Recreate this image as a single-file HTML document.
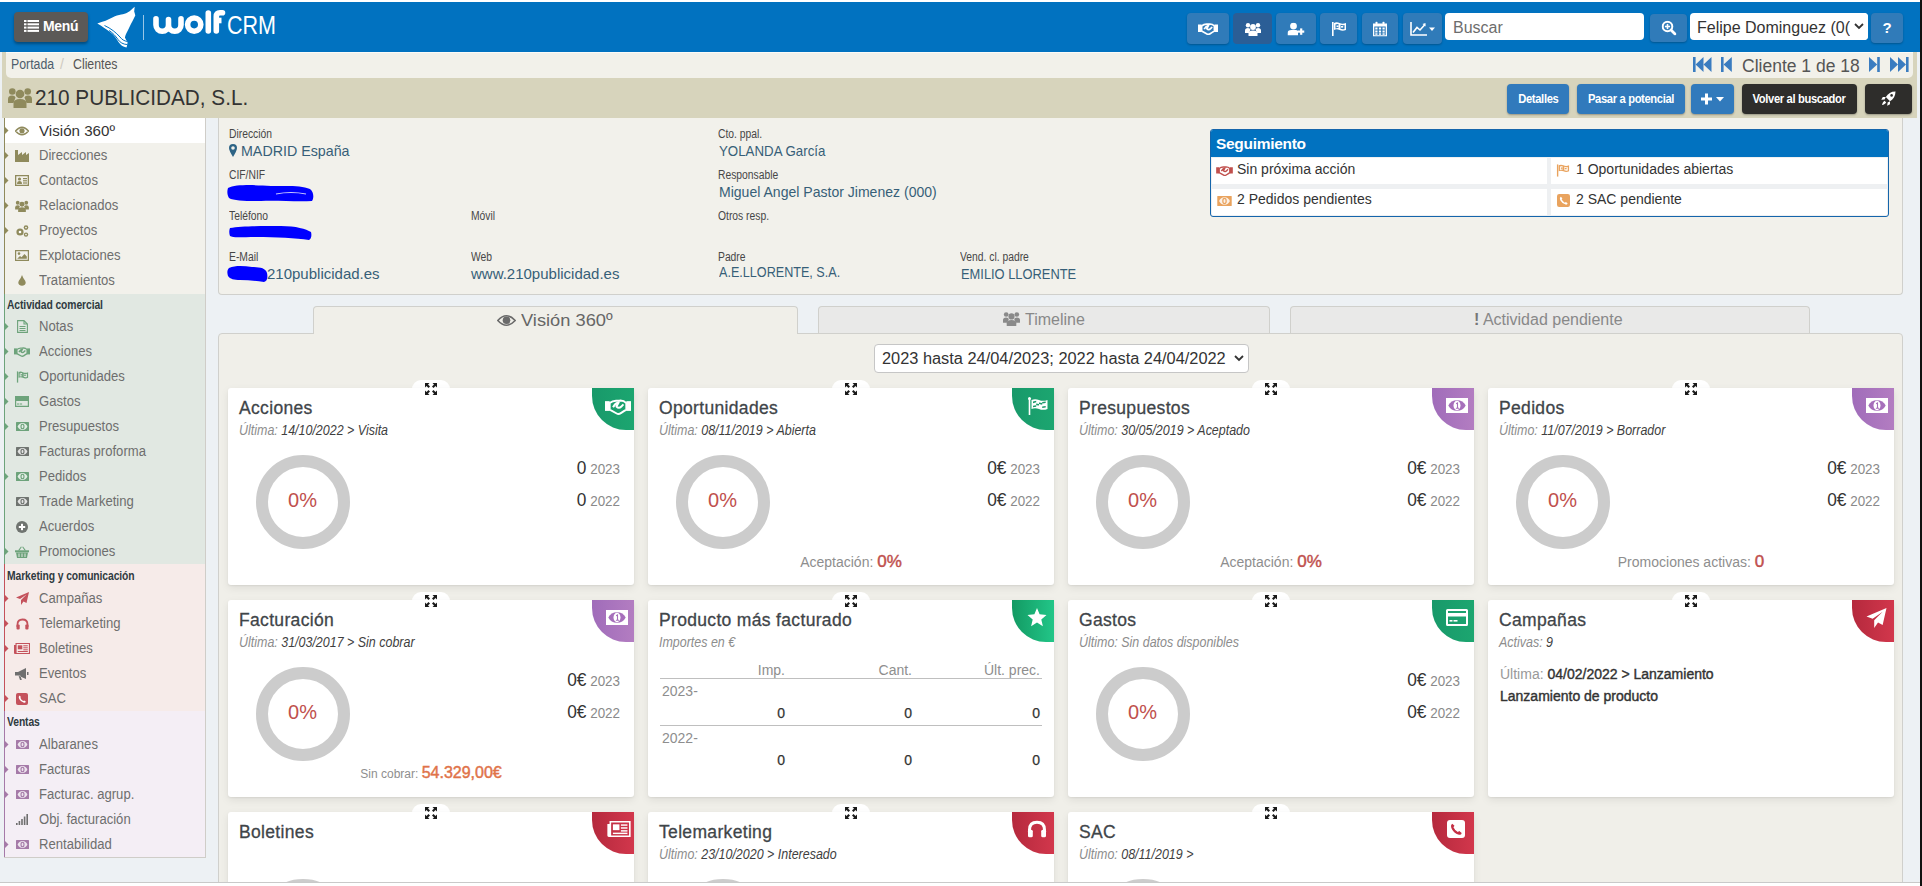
<!DOCTYPE html>
<html><head><meta charset="utf-8">
<style>
*{box-sizing:border-box;margin:0;padding:0}
html,body{width:1922px;height:886px;overflow:hidden;background:#fff;font-family:"Liberation Sans",sans-serif;color:#333}
.a{position:absolute}
.nw{white-space:nowrap}
#hdr{left:0;top:2px;width:1920px;height:50px;background:#0172c0}
#rstrip{left:1920px;top:0;width:2px;height:886px;background:#111}
#page{left:0;top:52px;width:1920px;height:831px;background:#edf1f4;border-bottom:1px solid #c9c9c9}
.hbtn{top:11px;height:31px;background:#307bb9;border-radius:4px;box-shadow:0 1px 2px rgba(0,0,0,.25)}
.hbtn svg{position:absolute;left:50%;top:50%;transform:translate(-50%,-50%)}
#menu{left:14px;top:10px;width:74px;height:30px;background:#5b5957;border-radius:4px;box-shadow:0 2px 3px rgba(0,0,0,.35);color:#fff;font-weight:bold;font-size:14px}
.tbtn{top:84px;height:30px;background:#317abc;border-radius:4px;color:#fff;font-size:13px;font-weight:bold;line-height:30px;text-align:center;white-space:nowrap;box-shadow:0 1px 2px rgba(0,0,0,.3);letter-spacing:-0.4px}
.sbh{left:7px;font-size:12px;font-weight:bold;color:#2f3a40;line-height:15px;transform:scaleX(0.86);transform-origin:left;letter-spacing:-0.1px}
.sbi{left:13px;width:18px;height:25px;display:flex;align-items:center;justify-content:center}
.sbt{left:39px;font-size:14px;line-height:17px;color:#6e6e6e;transform:scaleX(0.935);transform-origin:left}
.sbt0{font-size:15px;color:#333;transform:scaleX(1.01)}
.lbl{font-size:12px;line-height:14px;color:#474747;transform:scaleX(0.86);transform-origin:left}
.val{font-size:15px;line-height:17px;color:#375f78}
.card{width:406px;height:197px;background:#fff;border-radius:3px;box-shadow:0 3px 8px rgba(0,0,0,.08),0 1px 2px rgba(0,0,0,.06)}
.exptab{width:38px;height:20px;background:#fff;border-radius:9px 9px 0 0}
.bdg{width:42px;height:42px;border-radius:0 0 0 34px;overflow:hidden}
.ctitle{font-size:17.5px;line-height:20px;color:#3f4549;font-weight:normal;-webkit-text-stroke:0.3px #3f4549;letter-spacing:0.33px;margin-top:1px}
.csub{font-size:14px;line-height:16px;color:#3f3f3f;font-style:italic;transform:scaleX(0.89);transform-origin:left}
.donut{width:94px;height:94px;border-radius:50%;border:12px solid #cccccc}
.pct{width:101px;text-align:center;font-size:20px;line-height:24px;color:#c0504d;margin-top:-2px}
.rv{font-size:18px;line-height:22px;color:#333;transform:scaleX(0.96);transform-origin:right}
.yr{font-size:14px;color:#8a8a8a}
.bot{text-align:center}
.botl{font-size:14px;color:#8e8e8e}
.botn{font-size:17px;color:#c0504d;font-weight:normal;-webkit-text-stroke:0.45px #c0504d}
.botv2 .botl{font-size:12px}
.botv2 .botn{color:#e0734a;font-size:16px;-webkit-text-stroke:0.45px #e0734a}
.th{font-size:14px;line-height:16px;color:#8e8e8e}
.tyr{font-size:14px;line-height:16px;color:#8e8e8e}
.tv{font-size:14px;line-height:16px;color:#333;font-weight:normal;-webkit-text-stroke:0.25px #333}
.cl1{font-size:14px;line-height:17px;color:#333;font-weight:normal;-webkit-text-stroke:0.4px #333}
.tt{display:inline-block;transform:scaleX(0.86)}
.segt{font-size:14px;line-height:17px;color:#333}
</style></head><body>
<div class="a" id="page"></div>
<div class="a" id="hdr">
  <div class="a" id="menu">
    <svg class="a" style="left:10px;top:8px" width="15" height="12" viewBox="0 0 15 12"><g fill="#fff"><rect x="0" y="0" width="2.5" height="2"/><rect x="3.5" y="0" width="11.5" height="2"/><rect x="0" y="3.3" width="2.5" height="2"/><rect x="3.5" y="3.3" width="11.5" height="2"/><rect x="0" y="6.6" width="2.5" height="2"/><rect x="3.5" y="6.6" width="11.5" height="2"/><rect x="0" y="9.9" width="2.5" height="2"/><rect x="3.5" y="9.9" width="11.5" height="2"/></g></svg>
    <span class="a nw" style="left:29px;top:6px;font-size:14px;letter-spacing:-0.3px">Menú</span>
  </div>

  <svg class="a" style="left:96px;top:4px" width="42" height="44" viewBox="0 0 42 44">
    <path fill="#fff" d="M1.3 17.4 C4 16.5 7 15.6 9.6 14.8 C12 13.8 14.5 12.3 16.9 11.2 C19.5 10 22.5 9.3 25.2 8.6 C27.5 8 29.8 7.5 31.5 6.5 C33 5.6 34.3 4.5 35.6 3.4 C36.7 2.5 37.7 1.6 38.7 0.8 C38.6 2.3 38.3 3.9 38.2 5.4 C38.6 6.8 39.1 8.2 39.3 9.6 C38.5 11.3 37.6 13 36.7 14.8 C35.6 16.9 34.5 18.9 33.5 21 C32.5 23.1 31.4 25.2 30.4 27.3 C29.8 28.7 29.2 30.1 28.9 31.5 C29.5 33 30.5 34.5 31.5 36 C31.5 38 31 40 30.5 41.5 C27 41 24.5 39 22.5 36 C20.5 32.5 18 29 14 26 C10 23 6 20 1.3 17.4 Z"/>
    <path fill="none" stroke="#0172c0" stroke-width="1" d="M8.5 19.5 C15 22.5 20 26.5 24 31 C26 33.5 28 35 31.5 35.5"/>
    <path fill="none" stroke="#0172c0" stroke-width="1" d="M13 24.5 C17 27 19.5 30 22 33.5 C24 36.5 27 38.3 31.5 38.6"/>
  </svg>
  <div class="a" style="left:143px;top:13px;width:1px;height:25px;background:rgba(255,255,255,.6)"></div>
  <svg class="a" style="left:0;top:-2px" width="230" height="50" viewBox="0 0 230 50"><g fill="none" stroke="#fff" stroke-width="5.6" stroke-linecap="round" stroke-linejoin="round">
<path d="M156 18.8 L156 25 A6.25 6.25 0 0 0 168.5 25 L168.5 19.5 M168.5 25 A6.25 6.25 0 0 0 181 25 L181 18.8"/>
<circle cx="194.2" cy="24.6" r="6.6"/>
<path d="M208.3 13 L208.3 31"/>
<path d="M216.3 31 L216.3 16.5 Q216.3 12.8 220 12.8 L222.5 12.8"/>
<path d="M214 20.5 L221.5 20.5" stroke-linecap="butt"/>
</g></svg>
  <span class="a nw" style="left:227px;top:3px;font-size:25px;color:#fff;line-height:40px;transform:scaleX(0.86);transform-origin:left">CRM</span>

  <div class="a hbtn" style="left:1187px;width:42px">
    <svg width="20" height="12" viewBox="0 0 20 12"><g fill="#fff"><rect x="0" y="1.5" width="3.6" height="7.5"/><rect x="16.4" y="1.5" width="3.6" height="7.5"/></g><g fill="none" stroke="#fff" stroke-width="1.7" stroke-linejoin="round"><path d="M3.6 3 Q6 1 9 1.2 Q10.5 1.3 12 1 Q14.5 1 16.4 3 L16.4 8 Q14 9.5 12.5 10.5 Q10.5 11.8 9 11 L3.6 8 Z"/><path d="M6.2 6.2 Q7.8 3 10.6 2.4 L8.8 5.6 Q10.6 7.6 12.6 5.6 L14.2 4"/></g></svg>
  </div>
  <div class="a hbtn" style="left:1233px;width:39px;background:#2b5e96;box-shadow:none">
    <svg width="16" height="14" viewBox="0 0 16 14"><g fill="#fff"><circle cx="3" cy="3.2" r="2.2"/><circle cx="13" cy="3.2" r="2.2"/><circle cx="8" cy="5" r="2.9"/><path d="M0 11 L0 8.5 Q0 6 3 6 Q5 6 5.5 7.5 L4 11 Z"/><path d="M16 11 L16 8.5 Q16 6 13 6 Q11 6 10.5 7.5 L12 11 Z"/><path d="M3.5 14 L3.5 11.5 Q3.5 8.5 8 8.5 Q12.5 8.5 12.5 11.5 L12.5 14 Z"/></g></svg>
  </div>
  <div class="a hbtn" style="left:1276px;width:40px">
    <svg width="17" height="13" viewBox="0 0 17 13"><g fill="#fff"><circle cx="6" cy="3.6" r="3.4"/><path d="M0 13 L0 10.5 Q0 7.5 4 7.5 L8 7.5 Q10 7.5 10.5 8.5 L10.5 13 Z"/><rect x="10.5" y="8" width="6.5" height="2.2"/><rect x="12.6" y="5.9" width="2.2" height="6.4"/></g></svg>
  </div>
  <div class="a hbtn" style="left:1320px;width:37px">
    <svg width="15" height="15" viewBox="0 0 15 15"><g fill="#fff"><rect x="0.5" y="0.5" width="1.6" height="14"/><path d="M2.5 1.5 Q5 0 8 1.5 Q11 3 14.5 1.5 L14.5 8.5 Q11 10 8 8.5 Q5 7 2.5 8.5 Z M4 3 L4 7 Q5.5 6.2 7 6.5 L7 2.6 Q5.5 2.3 4 3 Z M9 3.3 L9 7.2 Q11 8 13 7.4 L13 3.5 Q11 4 9 3.3 Z" fill-rule="evenodd"/><rect x="5" y="4" width="2" height="1.6"/><rect x="9.5" y="4.5" width="2.2" height="1.6"/></g></svg>
  </div>
  <div class="a hbtn" style="left:1362px;width:36px">
    <svg width="14" height="15" viewBox="0 0 14 15"><g fill="#fff"><rect x="2.5" y="0" width="2" height="3" rx="1"/><rect x="9.5" y="0" width="2" height="3" rx="1"/><path fill-rule="evenodd" d="M0 2 L14 2 L14 15 L0 15 Z M1.3 5 L1.3 13.7 L12.7 13.7 L12.7 5 Z"/><rect x="2.3" y="6" width="2.2" height="2"/><rect x="5.9" y="6" width="2.2" height="2"/><rect x="9.5" y="6" width="2.2" height="2"/><rect x="2.3" y="9" width="2.2" height="2"/><rect x="5.9" y="9" width="2.2" height="2"/><rect x="9.5" y="9" width="2.2" height="2"/><rect x="2.3" y="11.8" width="2.2" height="1.5"/><rect x="5.9" y="11.8" width="2.2" height="1.5"/><rect x="9.5" y="11.8" width="2.2" height="1.5"/></g></svg>
  </div>
  <div class="a hbtn" style="left:1403px;width:39px">
    <svg width="26" height="14" viewBox="0 0 26 14"><g fill="none" stroke="#fff" stroke-width="1.6"><path d="M1 0 L1 13 L17 13"/><path d="M3 10.5 L7 5.5 L10 8 L15 2.5"/></g><path d="M15.5 1 L15.5 4.5 L12.5 2 Z" fill="#fff"/><path d="M19 5.5 L25 5.5 L22 9 Z" fill="#fff"/></svg>
  </div>
  <div class="a" style="left:1445px;top:11px;width:199px;height:27px;background:#fff;border-radius:4px"></div>
  <span class="a nw" style="left:1453px;top:16px;font-size:16px;color:#6d6d6d;line-height:20px">Buscar</span>
  <div class="a hbtn" style="left:1650px;top:12px;height:28px;width:37px">
    <svg width="15" height="15" viewBox="0 0 15 15"><g fill="none" stroke="#fff" stroke-width="2"><circle cx="6" cy="6" r="4.8"/><path d="M9.5 9.5 L13.5 13.5" stroke-width="2.8" stroke-linecap="round"/></g><g fill="#fff"><rect x="3.4" y="5.2" width="5.2" height="1.6"/><rect x="5.2" y="3.4" width="1.6" height="5.2"/></g></svg>
  </div>
  <div class="a" style="left:1690px;top:11px;width:178px;height:27px;background:#fff;border-radius:4px;overflow:hidden">
    <span class="a nw" style="left:7px;top:5px;font-size:16px;color:#333;line-height:20px">Felipe Dominguez (0(</span>
    <div class="a" style="left:160px;top:0;width:18px;height:27px;background:#fff"></div>
    <svg class="a" style="left:164px;top:10px" width="10" height="7" viewBox="0 0 10 7"><path d="M1 1 L5 5 L9 1" fill="none" stroke="#333" stroke-width="1.8"/></svg>
  </div>
  <div class="a hbtn" style="left:1871px;width:32px;height:30px">
    <span class="a" style="left:0;top:6px;width:32px;text-align:center;font-size:15px;font-weight:bold;color:#fff;line-height:18px">?</span>
  </div>
</div>

<div class="a" style="left:2px;top:52px;width:1915px;height:66px;background:#d7d4bc"></div>
<div class="a" style="left:6px;top:52px;width:1907px;height:26px;background:#f2f1ea;border-radius:0 0 5px 5px;border-top:1px solid #fbfbf8"></div>
<span class="a nw" style="left:11px;top:56px;font-size:14px;line-height:16px;color:#4d5d6c;transform:scaleX(0.88);transform-origin:left">Portada</span>
<span class="a nw" style="left:60px;top:56px;font-size:14px;line-height:16px;color:#cfcac0">/</span>
<span class="a nw" style="left:73px;top:56px;font-size:14px;line-height:16px;color:#555;transform:scaleX(0.88);transform-origin:left">Clientes</span>
<svg class="a" style="left:1693px;top:57px" width="19" height="15" viewBox="0 0 19 15"><g fill="#3a7cc0"><rect x="0" y="0" width="2.6" height="15"/><path d="M2.6 7.5 L10.5 0 L10.5 15 Z"/><path d="M10.5 7.5 L18.5 0 L18.5 15 Z"/></g></svg>
<svg class="a" style="left:1721px;top:57px" width="11" height="15" viewBox="0 0 11 15"><g fill="#3a7cc0"><rect x="0" y="0" width="2.6" height="15"/><path d="M2.6 7.5 L10.8 0 L10.8 15 Z"/></g></svg>
<span class="a nw" style="left:1742px;top:55.5px;font-size:17.5px;line-height:20px;color:#555">Cliente 1 de 18</span>
<svg class="a" style="left:1869px;top:57px" width="11" height="15" viewBox="0 0 11 15"><g fill="#3a7cc0"><rect x="8.2" y="0" width="2.6" height="15"/><path d="M8.2 7.5 L0 0 L0 15 Z"/></g></svg>
<svg class="a" style="left:1890px;top:57px" width="19" height="15" viewBox="0 0 19 15"><g fill="#3a7cc0"><rect x="16" y="0" width="2.6" height="15"/><path d="M16 7.5 L8 0 L8 15 Z"/><path d="M8 7.5 L0 0 L0 15 Z"/></g></svg>
<svg class="a" style="left:8px;top:87px" width="24" height="21" viewBox="0 0 24 21"><g fill="#8f8a5c"><circle cx="4.3" cy="4.5" r="3.3"/><circle cx="19.7" cy="4.5" r="3.3"/><circle cx="12" cy="7" r="4.3"/><path d="M0 16 L0 12 Q0 8.5 4 8.5 Q7 8.5 7.5 10.5 L5.5 16 Z"/><path d="M24 16 L24 12 Q24 8.5 20 8.5 Q17 8.5 16.5 10.5 L18.5 16 Z"/><path d="M5.5 21 L5.5 16.5 Q5.5 12 12 12 Q18.5 12 18.5 16.5 L18.5 21 Z"/></g></svg>
<span class="a nw" style="left:34.5px;top:86px;font-size:22.3px;line-height:24px;color:#333;transform:scaleX(0.93);transform-origin:left">210 PUBLICIDAD, S.L.</span>
<div class="a tbtn" style="left:1507px;width:62px"><span class="tt">Detalles</span></div>
<div class="a tbtn" style="left:1577px;width:108px"><span class="tt">Pasar a potencial</span></div>
<div class="a tbtn" style="left:1691px;width:43px"><svg class="a" style="left:10px;top:9px" width="24" height="12" viewBox="0 0 24 12"><g fill="#fff"><rect x="0" y="4.5" width="11" height="3"/><rect x="4" y="0.5" width="3" height="11"/><path d="M15 4 L23 4 L19 8.5 Z"/></g></svg></div>
<div class="a tbtn" style="left:1742px;width:115px;background:#2e2d2b"><span class="tt">Volver al buscador</span></div>
<div class="a tbtn" style="left:1865px;width:47px;background:#2e2d2b"><svg class="a" style="left:16px;top:7px" width="15" height="15" viewBox="0 0 15 15"><path d="M14.5 0.5 C10 0.5 7 2.5 4.8 6 L9 10.2 C12.5 8 14.5 5 14.5 0.5 Z" fill="#fff"/><circle cx="10.6" cy="4.4" r="1.3" fill="#2e2d2b"/><path d="M4.8 6 L1.8 6 L0.3 8.8 L3.6 8.4 Z" fill="#fff"/><path d="M9 10.2 L9 13.2 L6.2 14.7 L6.6 11.4 Z" fill="#fff"/><path d="M3.6 9.8 C2.4 10.4 1.5 12 1 14 C3 13.5 4.6 12.6 5.2 11.4 Z" fill="#fff"/></svg></div>

<!--INFO-->
<div class="a" style="left:218px;top:118px;width:1685px;height:177px;background:#f2f1eb;border:1px solid #d0d0cc;border-top:none;border-radius:0 0 4px 4px"></div>
<span class="a nw lbl" style="left:229px;top:127px">Dirección</span>
<svg class="a" style="left:229px;top:144px" width="8" height="13" viewBox="0 0 8 13"><path fill-rule="evenodd" fill="#2d6485" d="M4 0 Q8 0 8 4 Q8 6.5 4 13 Q0 6.5 0 4 Q0 0 4 0 Z M4 2.2 Q2.2 2.2 2.2 4 Q2.2 5.8 4 5.8 Q5.8 5.8 5.8 4 Q5.8 2.2 4 2.2 Z"/></svg>
<span class="a nw val" style="transform:scaleX(0.95);transform-origin:left;left:241px;top:142px">MADRID España</span>
<span class="a nw lbl" style="left:229px;top:168px">CIF/NIF</span>
<span class="a nw lbl" style="left:229px;top:209px">Teléfono</span>
<span class="a nw lbl" style="left:229px;top:250px">E-Mail</span>
<span class="a nw val" style="left:267px;top:265px">210publicidad.es</span>
<span class="a nw lbl" style="left:471px;top:209px">Móvil</span>
<span class="a nw lbl" style="left:471px;top:250px">Web</span>
<span class="a nw val" style="left:471px;top:265px">www.210publicidad.es</span>
<span class="a nw lbl" style="left:718px;top:127px">Cto. ppal.</span>
<span class="a nw val" style="transform:scaleX(0.886);transform-origin:left;left:719px;top:142px">YOLANDA García</span>
<span class="a nw lbl" style="left:718px;top:168px">Responsable</span>
<span class="a nw val" style="transform:scaleX(0.936);transform-origin:left;left:719px;top:183px">Miguel Angel Pastor Jimenez (000)</span>
<span class="a nw lbl" style="left:718px;top:209px">Otros resp.</span>
<span class="a nw lbl" style="left:718px;top:250px">Padre</span>
<span class="a nw val" style="transform:scaleX(0.84);transform-origin:left;left:719px;top:263px">A.E.LLORENTE, S.A.</span>
<span class="a nw lbl" style="left:960px;top:250px">Vend. cl. padre</span>
<span class="a nw val" style="transform:scaleX(0.858);transform-origin:left;left:961px;top:265px">EMILIO LLORENTE</span>
<svg class="a" style="left:226px;top:180px" width="90" height="65" viewBox="0 0 90 65">
 <g fill="#0000ff">
  <path d="M2 8 C10 4 30 5 45 6 C60 6 75 5 84 9 C88 12 88 18 86 21 C70 22 50 20 35 21 C20 21 8 21 3 18 C1 15 1 11 2 8 Z"/>
  <path d="M4 48 C15 46 35 46 55 46 C70 46 80 49 85 52 C86 56 85 59 83 60 C70 58 50 57 30 57 C15 57 7 58 4 56 C3 53 3 50 4 48 Z"/>
 </g>
 <path d="M50 14 C60 12 70 12 80 14" stroke="#fff" stroke-width="1.2" fill="none" opacity=".8"/>
</svg>
<svg class="a" style="left:226px;top:264px" width="44" height="20" viewBox="0 0 44 20"><path fill="#0000ff" d="M3 4 C10 1 18 2 26 3 C33 3 40 4 41 9 C42 14 41 17 38 18 C30 17 22 16 14 16 C8 16 4 15 2 12 C1 9 1 6 3 4 Z"/></svg>

<!--SEG-->
<div class="a" style="left:1210px;top:129px;width:679px;height:88px;background:#eef0f2;border:1px solid #1565ab;border-radius:3px;overflow:hidden">
  <div class="a" style="left:0;top:0;width:677px;height:27px;background:#0172c0"></div>
  <span class="a nw" style="left:5px;top:5px;font-size:15.5px;line-height:18px;font-weight:bold;color:#fff;letter-spacing:-0.3px">Seguimiento</span>
  <div class="a" style="left:1px;top:28px;width:335px;height:26px;background:#fff"></div>
  <div class="a" style="left:340px;top:28px;width:336px;height:26px;background:#fff"></div>
  <div class="a" style="left:1px;top:59px;width:335px;height:26px;background:#fff"></div>
  <div class="a" style="left:340px;top:59px;width:336px;height:26px;background:#fff"></div>
</div>
<svg class="a" style="left:1216px;top:166px" width="17" height="10" viewBox="0 0 20 12"><g fill="#c0504d"><rect x="0" y="1.5" width="3.6" height="7.5"/><rect x="16.4" y="1.5" width="3.6" height="7.5"/></g><g fill="none" stroke="#c0504d" stroke-width="1.7" stroke-linejoin="round"><path d="M3.6 3 Q6 1 9 1.2 Q10.5 1.3 12 1 Q14.5 1 16.4 3 L16.4 8 Q14 9.5 12.5 10.5 Q10.5 11.8 9 11 L3.6 8 Z"/><path d="M6.2 6.2 Q7.8 3 10.6 2.4 L8.8 5.6 Q10.6 7.6 12.6 5.6 L14.2 4"/></g></svg>
<span class="a nw segt" style="left:1237px;top:161px">Sin próxima acción</span>
<svg class="a" style="left:1217px;top:196px" width="15" height="10" viewBox="0 0 13 9"><rect width="13" height="9" rx="0.5" fill="#e9a35e"/><path d="M1.6 4.5 Q3 1.2 6.5 1.1 Q10 1.2 11.4 4.5 Q10 7.8 6.5 7.9 Q3 7.8 1.6 4.5 Z" fill="#fff" opacity=".85"/><ellipse cx="6.5" cy="4.5" rx="1.5" ry="2.3" fill="none" stroke="#e9a35e" stroke-width="1.1"/></svg>
<span class="a nw segt" style="left:1237px;top:191px">2 Pedidos pendientes</span>
<svg class="a" style="left:1556px;top:164px" width="14" height="13" viewBox="0 0 15 15"><g fill="#e9a35e"><rect x="0.5" y="0.5" width="1.6" height="14"/><path d="M2.5 1.5 Q5 0 8 1.5 Q11 3 14.5 1.5 L14.5 8.5 Q11 10 8 8.5 Q5 7 2.5 8.5 Z M4 3 L4 7 Q5.5 6.2 7 6.5 L7 2.6 Q5.5 2.3 4 3 Z M9 3.3 L9 7.2 Q11 8 13 7.4 L13 3.5 Q11 4 9 3.3 Z" fill-rule="evenodd"/><rect x="5" y="4" width="2" height="1.6"/><rect x="9.5" y="4.5" width="2.2" height="1.6"/></g></svg>
<span class="a nw segt" style="left:1576px;top:161px">1 Oportunidades abiertas</span>
<svg class="a" style="left:1557px;top:194px" width="13" height="13" viewBox="0 0 12 12"><rect width="12" height="12" rx="2" fill="#e9a35e"/><path d="M3.5 2.5 Q2 3.5 3.2 6 Q4.8 9 8 9.8 Q9.6 10 9.8 8.6 L8.2 7.4 L7.2 8 Q5.3 7 4.3 4.8 L5 3.9 Z" fill="#fff"/></svg>
<span class="a nw segt" style="left:1576px;top:191px">2 SAC pendiente</span>
<!--/SEG-->
<!--/INFO-->

<!--MAIN-->
<div class="a" style="left:218px;top:333px;width:1685px;height:560px;background:#f0efe9;border:1px solid #d0d0cc;border-radius:4px"></div>
<div class="a" style="left:313px;top:306px;width:485px;height:28px;background:#f0efe9;border:1px solid #d0d0cc;border-bottom:none;border-radius:4px 4px 0 0"></div>
<div class="a" style="left:818px;top:306px;width:452px;height:27px;background:#e9e9e8;border:1px solid #d0d0cc;border-bottom:none;border-radius:4px 4px 0 0"></div>
<div class="a" style="left:1290px;top:306px;width:520px;height:27px;background:#e9e9e8;border:1px solid #d0d0cc;border-bottom:none;border-radius:4px 4px 0 0"></div>
<svg class="a" style="left:497px;top:314px" width="19" height="13" viewBox="0 0 19 13"><path d="M0.8 6.5 Q9.5 -3 18.2 6.5 Q9.5 16 0.8 6.5 Z" fill="none" stroke="#6a6a6a" stroke-width="1.6"/><circle cx="9.5" cy="6.3" r="3.8" fill="#6a6a6a"/></svg>
<span class="a nw" style="left:521px;top:311px;font-size:17px;line-height:20px;color:#666;transform:scaleX(1.075);transform-origin:left">Visión 360º</span>
<svg class="a" style="left:1003px;top:311px" width="17" height="15" viewBox="0 0 16 14"><g fill="#8a8a8a"><circle cx="3" cy="3.2" r="2.2"/><circle cx="13" cy="3.2" r="2.2"/><circle cx="8" cy="5" r="2.9"/><path d="M0 11 L0 8.5 Q0 6 3 6 Q5 6 5.5 7.5 L4 11 Z"/><path d="M16 11 L16 8.5 Q16 6 13 6 Q11 6 10.5 7.5 L12 11 Z"/><path d="M3.5 14 L3.5 11.5 Q3.5 8.5 8 8.5 Q12.5 8.5 12.5 11.5 L12.5 14 Z"/></g></svg>
<span class="a nw" style="left:1025px;top:310px;font-size:16px;line-height:19px;color:#888">Timeline</span>
<span class="a nw" style="left:1474px;top:310px;font-size:16px;line-height:19px;color:#888"><b style="color:#777">!</b> Actividad pendiente</span>
<div class="a" style="left:874px;top:344px;width:375px;height:29px;background:#fff;border:1px solid #c6c6c6;border-radius:4px"></div>
<span class="a nw" style="left:882px;top:349px;font-size:16px;line-height:19px;color:#333;transform:scaleX(1.022);transform-origin:left">2023 hasta 24/04/2023; 2022 hasta 24/04/2022</span>
<svg class="a" style="left:1234px;top:355px" width="10" height="7" viewBox="0 0 10 7"><path d="M1 1 L5 5 L9 1" fill="none" stroke="#333" stroke-width="1.8"/></svg>
<!--CARDS-->
<div class="a exptab" style="left:412px;top:380px"></div>
<div class="a card" style="left:228px;top:388px"></div>
<div class="a" style="left:425px;top:381px;width:12px;height:12px"><svg width="12" height="12" viewBox="0 0 12 12"><g fill="#1a1a1a"><path d="M0 0 L4.5 0 L3 1.5 L5 3.5 L3.5 5 L1.5 3 L0 4.5 Z"/><path d="M12 0 L7.5 0 L9 1.5 L7 3.5 L8.5 5 L10.5 3 L12 4.5 Z"/><path d="M0 12 L4.5 12 L3 10.5 L5 8.5 L3.5 7 L1.5 9 L0 7.5 Z"/><path d="M12 12 L7.5 12 L9 10.5 L7 8.5 L8.5 7 L10.5 9 L12 7.5 Z"/></g></svg></div>
<div class="a bdg" style="left:592px;top:388px;background:linear-gradient(90deg,#18996a,#1ca670)"><div class="a" style="left:13px;top:11px;line-height:0"><svg width="26" height="16" viewBox="0 0 20 12"><g fill="#fff"><rect x="0" y="1.5" width="3.6" height="7.5"/><rect x="16.4" y="1.5" width="3.6" height="7.5"/></g><g fill="none" stroke="#fff" stroke-width="1.5" stroke-linejoin="round"><path d="M3.6 3 Q6 1 9 1.2 Q10.5 1.3 12 1 Q14.5 1 16.4 3 L16.4 8 Q14 9.5 12.5 10.5 Q10.5 11.8 9 11 L3.6 8 Z"/><path d="M6.2 6.2 Q7.8 3 10.6 2.4 L8.8 5.6 Q10.6 7.6 12.6 5.6 L14.2 4"/></g></svg></div></div>
<span class="a nw ctitle" style="left:239px;top:397px">Acciones</span>
<span class="a nw csub" style="left:239px;top:422px"><span style="color:#8d8d8d">Última:</span> 14/10/2022 &gt; Visita</span>
<div class="a donut" style="left:255.5px;top:455px"></div>
<span class="a nw pct" style="left:252px;top:490px">0%</span>
<div class="a nw rv" style="right:1302px;top:457px">0<span class="yr"> 2023</span></div>
<div class="a nw rv" style="right:1302px;top:489px">0<span class="yr"> 2022</span></div>
<div class="a exptab" style="left:832px;top:380px"></div>
<div class="a card" style="left:648px;top:388px"></div>
<div class="a" style="left:845px;top:381px;width:12px;height:12px"><svg width="12" height="12" viewBox="0 0 12 12"><g fill="#1a1a1a"><path d="M0 0 L4.5 0 L3 1.5 L5 3.5 L3.5 5 L1.5 3 L0 4.5 Z"/><path d="M12 0 L7.5 0 L9 1.5 L7 3.5 L8.5 5 L10.5 3 L12 4.5 Z"/><path d="M0 12 L4.5 12 L3 10.5 L5 8.5 L3.5 7 L1.5 9 L0 7.5 Z"/><path d="M12 12 L7.5 12 L9 10.5 L7 8.5 L8.5 7 L10.5 9 L12 7.5 Z"/></g></svg></div>
<div class="a bdg" style="left:1012px;top:388px;background:linear-gradient(90deg,#18996a,#1ca670)"><div class="a" style="left:16px;top:9px;line-height:0"><svg width="20" height="18" viewBox="0 0 20 18"><circle cx="1.5" cy="1.6" r="1.5" fill="#fff"/><rect x="0.7" y="1.5" width="1.6" height="16.5" fill="#fff"/><path d="M3.5 3 Q7 1.3 11 3 Q15 4.7 19.5 3 L19.5 12 Q15 13.7 11 12 Q7 10.3 3.5 12 Z" fill="#fff"/><g fill="#1b9a6b"><path d="M5 4.6 L8.2 3.7 L8.2 5.3 L5 6.2 Z"/><path d="M11 5.4 L14.2 6.1 L14.2 7.7 L11 7 Z"/><path d="M8.2 6.6 L11 7 L11 8.6 L8.2 8.2 Z"/><path d="M5 8.7 L8.2 8.2 L8.2 9.8 L5 10.3 Z"/><path d="M14.2 4.9 L17.7 4.4 L17.7 6 L14.2 6.5 Z"/><path d="M14.2 9.5 L17.7 9 L17.7 10.6 L14.2 11.1 Z"/></g></svg></div></div>
<span class="a nw ctitle" style="left:659px;top:397px">Oportunidades</span>
<span class="a nw csub" style="left:659px;top:422px"><span style="color:#8d8d8d">Última:</span> 08/11/2019 &gt; Abierta</span>
<div class="a donut" style="left:675.5px;top:455px"></div>
<span class="a nw pct" style="left:672px;top:490px">0%</span>
<div class="a nw rv" style="right:882px;top:457px">0€<span class="yr"> 2023</span></div>
<div class="a nw rv" style="right:882px;top:489px">0€<span class="yr"> 2022</span></div>
<div class="a nw bot botv" style="left:648px;top:552px;width:406px"><span class="botl">Aceptación: </span><span class="botn">0%</span></div>
<div class="a exptab" style="left:1252px;top:380px"></div>
<div class="a card" style="left:1068px;top:388px"></div>
<div class="a" style="left:1265px;top:381px;width:12px;height:12px"><svg width="12" height="12" viewBox="0 0 12 12"><g fill="#1a1a1a"><path d="M0 0 L4.5 0 L3 1.5 L5 3.5 L3.5 5 L1.5 3 L0 4.5 Z"/><path d="M12 0 L7.5 0 L9 1.5 L7 3.5 L8.5 5 L10.5 3 L12 4.5 Z"/><path d="M0 12 L4.5 12 L3 10.5 L5 8.5 L3.5 7 L1.5 9 L0 7.5 Z"/><path d="M12 12 L7.5 12 L9 10.5 L7 8.5 L8.5 7 L10.5 9 L12 7.5 Z"/></g></svg></div>
<div class="a bdg" style="left:1432px;top:388px;background:linear-gradient(90deg,#a06cba,#b37dc1)"><div class="a" style="left:14px;top:10px;line-height:0"><svg width="22" height="15" viewBox="0 0 22 15"><rect width="22" height="15" fill="#fff"/><path d="M2.3 7.5 Q5 2.3 11 2.2 Q17 2.3 19.7 7.5 Q17 12.7 11 12.8 Q5 12.7 2.3 7.5 Z" fill="#a66fbb"/><ellipse cx="11" cy="7.5" rx="3.5" ry="4.7" fill="#fff"/><path d="M10.1 5.7 L11.5 4.9 L11.5 10.3 M9.9 10.3 L13.1 10.3" stroke="#a66fbb" stroke-width="1.1" fill="none"/></svg></div></div>
<span class="a nw ctitle" style="left:1079px;top:397px">Presupuestos</span>
<span class="a nw csub" style="left:1079px;top:422px"><span style="color:#8d8d8d">Último:</span> 30/05/2019 &gt; Aceptado</span>
<div class="a donut" style="left:1095.5px;top:455px"></div>
<span class="a nw pct" style="left:1092px;top:490px">0%</span>
<div class="a nw rv" style="right:462px;top:457px">0€<span class="yr"> 2023</span></div>
<div class="a nw rv" style="right:462px;top:489px">0€<span class="yr"> 2022</span></div>
<div class="a nw bot botv" style="left:1068px;top:552px;width:406px"><span class="botl">Aceptación: </span><span class="botn">0%</span></div>
<div class="a exptab" style="left:1672px;top:380px"></div>
<div class="a card" style="left:1488px;top:388px"></div>
<div class="a" style="left:1685px;top:381px;width:12px;height:12px"><svg width="12" height="12" viewBox="0 0 12 12"><g fill="#1a1a1a"><path d="M0 0 L4.5 0 L3 1.5 L5 3.5 L3.5 5 L1.5 3 L0 4.5 Z"/><path d="M12 0 L7.5 0 L9 1.5 L7 3.5 L8.5 5 L10.5 3 L12 4.5 Z"/><path d="M0 12 L4.5 12 L3 10.5 L5 8.5 L3.5 7 L1.5 9 L0 7.5 Z"/><path d="M12 12 L7.5 12 L9 10.5 L7 8.5 L8.5 7 L10.5 9 L12 7.5 Z"/></g></svg></div>
<div class="a bdg" style="left:1852px;top:388px;background:linear-gradient(90deg,#a06cba,#b37dc1)"><div class="a" style="left:14px;top:10px;line-height:0"><svg width="22" height="15" viewBox="0 0 22 15"><rect width="22" height="15" fill="#fff"/><path d="M2.3 7.5 Q5 2.3 11 2.2 Q17 2.3 19.7 7.5 Q17 12.7 11 12.8 Q5 12.7 2.3 7.5 Z" fill="#a66fbb"/><ellipse cx="11" cy="7.5" rx="3.5" ry="4.7" fill="#fff"/><path d="M10.1 5.7 L11.5 4.9 L11.5 10.3 M9.9 10.3 L13.1 10.3" stroke="#a66fbb" stroke-width="1.1" fill="none"/></svg></div></div>
<span class="a nw ctitle" style="left:1499px;top:397px">Pedidos</span>
<span class="a nw csub" style="left:1499px;top:422px"><span style="color:#8d8d8d">Último:</span> 11/07/2019 &gt; Borrador</span>
<div class="a donut" style="left:1515.5px;top:455px"></div>
<span class="a nw pct" style="left:1512px;top:490px">0%</span>
<div class="a nw rv" style="right:42px;top:457px">0€<span class="yr"> 2023</span></div>
<div class="a nw rv" style="right:42px;top:489px">0€<span class="yr"> 2022</span></div>
<div class="a nw bot botv" style="left:1488px;top:552px;width:406px"><span class="botl">Promociones activas: </span><span class="botn">0</span></div>
<div class="a exptab" style="left:412px;top:592px"></div>
<div class="a card" style="left:228px;top:600px"></div>
<div class="a" style="left:425px;top:593px;width:12px;height:12px"><svg width="12" height="12" viewBox="0 0 12 12"><g fill="#1a1a1a"><path d="M0 0 L4.5 0 L3 1.5 L5 3.5 L3.5 5 L1.5 3 L0 4.5 Z"/><path d="M12 0 L7.5 0 L9 1.5 L7 3.5 L8.5 5 L10.5 3 L12 4.5 Z"/><path d="M0 12 L4.5 12 L3 10.5 L5 8.5 L3.5 7 L1.5 9 L0 7.5 Z"/><path d="M12 12 L7.5 12 L9 10.5 L7 8.5 L8.5 7 L10.5 9 L12 7.5 Z"/></g></svg></div>
<div class="a bdg" style="left:592px;top:600px;background:linear-gradient(90deg,#a06cba,#b37dc1)"><div class="a" style="left:14px;top:10px;line-height:0"><svg width="22" height="15" viewBox="0 0 22 15"><rect width="22" height="15" fill="#fff"/><path d="M2.3 7.5 Q5 2.3 11 2.2 Q17 2.3 19.7 7.5 Q17 12.7 11 12.8 Q5 12.7 2.3 7.5 Z" fill="#a66fbb"/><ellipse cx="11" cy="7.5" rx="3.5" ry="4.7" fill="#fff"/><path d="M10.1 5.7 L11.5 4.9 L11.5 10.3 M9.9 10.3 L13.1 10.3" stroke="#a66fbb" stroke-width="1.1" fill="none"/></svg></div></div>
<span class="a nw ctitle" style="left:239px;top:609px">Facturación</span>
<span class="a nw csub" style="left:239px;top:634px"><span style="color:#8d8d8d">Última:</span> 31/03/2017 &gt; Sin cobrar</span>
<div class="a donut" style="left:255.5px;top:667px"></div>
<span class="a nw pct" style="left:252px;top:702px">0%</span>
<div class="a nw rv" style="right:1302px;top:669px">0€<span class="yr"> 2023</span></div>
<div class="a nw rv" style="right:1302px;top:701px">0€<span class="yr"> 2022</span></div>
<div class="a nw bot botv2" style="left:228px;top:764px;width:406px"><span class="botl">Sin cobrar: </span><span class="botn">54.329,00€</span></div>
<div class="a exptab" style="left:832px;top:592px"></div>
<div class="a card" style="left:648px;top:600px"></div>
<div class="a" style="left:845px;top:593px;width:12px;height:12px"><svg width="12" height="12" viewBox="0 0 12 12"><g fill="#1a1a1a"><path d="M0 0 L4.5 0 L3 1.5 L5 3.5 L3.5 5 L1.5 3 L0 4.5 Z"/><path d="M12 0 L7.5 0 L9 1.5 L7 3.5 L8.5 5 L10.5 3 L12 4.5 Z"/><path d="M0 12 L4.5 12 L3 10.5 L5 8.5 L3.5 7 L1.5 9 L0 7.5 Z"/><path d="M12 12 L7.5 12 L9 10.5 L7 8.5 L8.5 7 L10.5 9 L12 7.5 Z"/></g></svg></div>
<div class="a bdg" style="left:1012px;top:600px;background:linear-gradient(90deg,#139a63,#22c688)"><div class="a" style="left:15px;top:8px;line-height:0"><svg width="20" height="19" viewBox="0 0 20 19"><path fill="#fff" d="M10 0 L12.6 6.2 L19.5 6.9 L14.3 11.4 L15.9 18.2 L10 14.6 L4.1 18.2 L5.7 11.4 L0.5 6.9 L7.4 6.2 Z"/></svg></div></div>
<span class="a nw ctitle" style="left:659px;top:609px">Producto más facturado</span>
<span class="a nw csub" style="left:659px;top:634px"><span style="color:#8d8d8d">Importes en €</span></span>
<span class="a nw th" style="right:1137px;top:662px">Imp.</span>
<span class="a nw th" style="right:1010px;top:662px">Cant.</span>
<span class="a nw th" style="right:882px;top:662px">Últ. prec.</span>
<div class="a" style="left:660px;top:678px;width:382px;height:1px;background:#bfbfbf"></div>
<span class="a nw tyr" style="left:662px;top:683px">2023-</span>
<span class="a nw tv" style="right:1137px;top:705px">0</span>
<span class="a nw tv" style="right:1010px;top:705px">0</span>
<span class="a nw tv" style="right:882px;top:705px">0</span>
<div class="a" style="left:660px;top:725px;width:382px;height:1px;background:#bfbfbf"></div>
<span class="a nw tyr" style="left:662px;top:730px">2022-</span>
<span class="a nw tv" style="right:1137px;top:752px">0</span>
<span class="a nw tv" style="right:1010px;top:752px">0</span>
<span class="a nw tv" style="right:882px;top:752px">0</span>
<div class="a exptab" style="left:1252px;top:592px"></div>
<div class="a card" style="left:1068px;top:600px"></div>
<div class="a" style="left:1265px;top:593px;width:12px;height:12px"><svg width="12" height="12" viewBox="0 0 12 12"><g fill="#1a1a1a"><path d="M0 0 L4.5 0 L3 1.5 L5 3.5 L3.5 5 L1.5 3 L0 4.5 Z"/><path d="M12 0 L7.5 0 L9 1.5 L7 3.5 L8.5 5 L10.5 3 L12 4.5 Z"/><path d="M0 12 L4.5 12 L3 10.5 L5 8.5 L3.5 7 L1.5 9 L0 7.5 Z"/><path d="M12 12 L7.5 12 L9 10.5 L7 8.5 L8.5 7 L10.5 9 L12 7.5 Z"/></g></svg></div>
<div class="a bdg" style="left:1432px;top:600px;background:linear-gradient(90deg,#18996a,#1ca670)"><div class="a" style="left:14px;top:9px;line-height:0"><svg width="22" height="17" viewBox="0 0 22 17"><path fill-rule="evenodd" fill="#fff" d="M1.5 0 L20.5 0 Q22 0 22 1.5 L22 15.5 Q22 17 20.5 17 L1.5 17 Q0 17 0 15.5 L0 1.5 Q0 0 1.5 0 Z M2 2 L2 4 L20 4 L20 2 Z M2 7.5 L2 15 L20 15 L20 7.5 Z"/><rect x="3.5" y="11" width="3" height="1.6" fill="#fff"/><rect x="7.5" y="11" width="4" height="1.6" fill="#fff"/></svg></div></div>
<span class="a nw ctitle" style="left:1079px;top:609px">Gastos</span>
<span class="a nw csub" style="left:1079px;top:634px"><span style="color:#8d8d8d">Último: Sin datos disponibles</span></span>
<div class="a donut" style="left:1095.5px;top:667px"></div>
<span class="a nw pct" style="left:1092px;top:702px">0%</span>
<div class="a nw rv" style="right:462px;top:669px">0€<span class="yr"> 2023</span></div>
<div class="a nw rv" style="right:462px;top:701px">0€<span class="yr"> 2022</span></div>
<div class="a exptab" style="left:1672px;top:592px"></div>
<div class="a card" style="left:1488px;top:600px"></div>
<div class="a" style="left:1685px;top:593px;width:12px;height:12px"><svg width="12" height="12" viewBox="0 0 12 12"><g fill="#1a1a1a"><path d="M0 0 L4.5 0 L3 1.5 L5 3.5 L3.5 5 L1.5 3 L0 4.5 Z"/><path d="M12 0 L7.5 0 L9 1.5 L7 3.5 L8.5 5 L10.5 3 L12 4.5 Z"/><path d="M0 12 L4.5 12 L3 10.5 L5 8.5 L3.5 7 L1.5 9 L0 7.5 Z"/><path d="M12 12 L7.5 12 L9 10.5 L7 8.5 L8.5 7 L10.5 9 L12 7.5 Z"/></g></svg></div>
<div class="a bdg" style="left:1852px;top:600px;background:linear-gradient(90deg,#b5293d,#d2374c)"><div class="a" style="left:14px;top:8px;line-height:0"><svg width="21" height="20" viewBox="0 0 13 13"><path d="M13 0 L0 5.5 L4 7 L10.5 2.5 L5 8 L5 13 L7.5 9.5 L10.5 11 Z" fill="#fff"/></svg></div></div>
<span class="a nw ctitle" style="left:1499px;top:609px">Campañas</span>
<span class="a nw csub" style="left:1499px;top:634px"><span style="color:#8d8d8d">Activas:</span> 9</span>
<span class="a nw cl1" style="left:1500px;top:666px"><span style="color:#999;font-weight:normal;-webkit-text-stroke:0">Última:</span> 04/02/2022 &gt; Lanzamiento</span>
<span class="a nw cl1" style="left:1500px;top:688px">Lanzamiento de producto</span>
<div class="a exptab" style="left:412px;top:804px"></div>
<div class="a card" style="left:228px;top:812px"></div>
<div class="a" style="left:425px;top:805px;width:12px;height:12px"><svg width="12" height="12" viewBox="0 0 12 12"><g fill="#1a1a1a"><path d="M0 0 L4.5 0 L3 1.5 L5 3.5 L3.5 5 L1.5 3 L0 4.5 Z"/><path d="M12 0 L7.5 0 L9 1.5 L7 3.5 L8.5 5 L10.5 3 L12 4.5 Z"/><path d="M0 12 L4.5 12 L3 10.5 L5 8.5 L3.5 7 L1.5 9 L0 7.5 Z"/><path d="M12 12 L7.5 12 L9 10.5 L7 8.5 L8.5 7 L10.5 9 L12 7.5 Z"/></g></svg></div>
<div class="a bdg" style="left:592px;top:812px;background:linear-gradient(90deg,#b5293d,#d2374c)"><div class="a" style="left:15px;top:9px;line-height:0"><svg width="24" height="16" viewBox="0 0 16 11"><path fill-rule="evenodd" fill="#fff" d="M1.5 0 L16 0 L16 11 L1 11 Q0 11 0 10 L0 2 L1.5 2 Z M2.6 1.1 L2.6 9.9 L14.9 9.9 L14.9 1.1 Z"/><rect x="3.8" y="2.3" width="4.5" height="4" fill="#fff"/><g fill="#fff"><rect x="9.3" y="2.3" width="4.5" height="1"/><rect x="9.3" y="4.3" width="4.5" height="1"/><rect x="9.3" y="6.3" width="4.5" height="1"/><rect x="3.8" y="8" width="10" height="1"/></g></svg></div></div>
<span class="a nw ctitle" style="left:239px;top:821px">Boletines</span>
<div class="a donut" style="left:255.5px;top:879px"></div>
<span class="a nw pct" style="left:252px;top:914px">0%</span>
<div class="a exptab" style="left:832px;top:804px"></div>
<div class="a card" style="left:648px;top:812px"></div>
<div class="a" style="left:845px;top:805px;width:12px;height:12px"><svg width="12" height="12" viewBox="0 0 12 12"><g fill="#1a1a1a"><path d="M0 0 L4.5 0 L3 1.5 L5 3.5 L3.5 5 L1.5 3 L0 4.5 Z"/><path d="M12 0 L7.5 0 L9 1.5 L7 3.5 L8.5 5 L10.5 3 L12 4.5 Z"/><path d="M0 12 L4.5 12 L3 10.5 L5 8.5 L3.5 7 L1.5 9 L0 7.5 Z"/><path d="M12 12 L7.5 12 L9 10.5 L7 8.5 L8.5 7 L10.5 9 L12 7.5 Z"/></g></svg></div>
<div class="a bdg" style="left:1012px;top:812px;background:linear-gradient(90deg,#b5293d,#d2374c)"><div class="a" style="left:15px;top:8px;line-height:0"><svg width="20" height="18" viewBox="0 0 13 12"><path d="M1.5 9 L1.5 6.5 Q1.5 1.5 6.5 1.5 Q11.5 1.5 11.5 6.5 L11.5 9" fill="none" stroke="#fff" stroke-width="2"/><rect x="0.5" y="6.5" width="3.2" height="5" rx="1" fill="#fff"/><rect x="9.3" y="6.5" width="3.2" height="5" rx="1" fill="#fff"/></svg></div></div>
<span class="a nw ctitle" style="left:659px;top:821px">Telemarketing</span>
<span class="a nw csub" style="left:659px;top:846px"><span style="color:#8d8d8d">Último:</span> 23/10/2020 &gt; Interesado</span>
<div class="a donut" style="left:675.5px;top:879px"></div>
<span class="a nw pct" style="left:672px;top:914px">0%</span>
<div class="a exptab" style="left:1252px;top:804px"></div>
<div class="a card" style="left:1068px;top:812px"></div>
<div class="a" style="left:1265px;top:805px;width:12px;height:12px"><svg width="12" height="12" viewBox="0 0 12 12"><g fill="#1a1a1a"><path d="M0 0 L4.5 0 L3 1.5 L5 3.5 L3.5 5 L1.5 3 L0 4.5 Z"/><path d="M12 0 L7.5 0 L9 1.5 L7 3.5 L8.5 5 L10.5 3 L12 4.5 Z"/><path d="M0 12 L4.5 12 L3 10.5 L5 8.5 L3.5 7 L1.5 9 L0 7.5 Z"/><path d="M12 12 L7.5 12 L9 10.5 L7 8.5 L8.5 7 L10.5 9 L12 7.5 Z"/></g></svg></div>
<div class="a bdg" style="left:1432px;top:812px;background:linear-gradient(90deg,#b5293d,#d2374c)"><div class="a" style="left:15px;top:8px;line-height:0"><svg width="18" height="18" viewBox="0 0 12 12"><rect width="12" height="12" rx="2" fill="#fff"/><path d="M3.5 2.5 Q2 3.5 3.2 6 Q4.8 9 8 9.8 Q9.6 10 9.8 8.6 L8.2 7.4 L7.2 8 Q5.3 7 4.3 4.8 L5 3.9 Z" fill="#c42f44"/></svg></div></div>
<span class="a nw ctitle" style="left:1079px;top:821px">SAC</span>
<span class="a nw csub" style="left:1079px;top:846px"><span style="color:#8d8d8d">Último:</span> 08/11/2019 &gt;</span>
<div class="a donut" style="left:1095.5px;top:879px"></div>
<span class="a nw pct" style="left:1092px;top:914px">0%</span>
<!--/CARDS-->
<!--/MAIN-->
<!--SIDEBAR-->
<div class="a" style="left:4px;top:118px;width:202px;height:740px;border:1px solid #cfcdc8;border-top:none;border-left:none"></div>
<div class="a" style="left:4px;top:118px;width:201px;height:176px;background:#f2f1eb;border-left:1px solid #8f8a5c"></div>
<div class="a" style="left:5px;top:118px;width:200px;height:25px;background:#fff"></div>
<svg class="a" style="left:5px;top:127px" width="4" height="7" viewBox="0 0 4 7"><path d="M0 0 L3.5 3.5 L0 7 Z" fill="#8f8a5c"/></svg>
<div class="a sbi" style="top:118px"><svg width="14" height="10" viewBox="0 0 14 10"><path d="M0.5 5 Q7 -2.5 13.5 5 Q7 12.5 0.5 5 Z" fill="none" stroke="#8f8a5c" stroke-width="1.3"/><circle cx="7" cy="4.8" r="2.6" fill="#8f8a5c"/></svg></div>
<span class="a nw sbt sbt0" style="top:122px">Visión 360º</span>
<svg class="a" style="left:5px;top:152px" width="4" height="7" viewBox="0 0 4 7"><path d="M0 0 L3.5 3.5 L0 7 Z" fill="#8f8a5c"/></svg>
<div class="a sbi" style="top:143px"><svg width="14" height="12" viewBox="0 0 14 12"><path d="M0 0 L3 0 L3 5 L7 2 L7 5 L11 2 L11 5 L14 3 L14 12 L0 12 Z" fill="#8f8a5c"/></svg></div>
<span class="a nw sbt" style="top:147px">Direcciones</span>
<svg class="a" style="left:5px;top:177px" width="4" height="7" viewBox="0 0 4 7"><path d="M0 0 L3.5 3.5 L0 7 Z" fill="#8f8a5c"/></svg>
<div class="a sbi" style="top:168px"><svg width="14" height="11" viewBox="0 0 14 11"><path fill-rule="evenodd" fill="#8f8a5c" d="M0 0 L14 0 L14 11 L0 11 Z M1.3 1.3 L1.3 9.7 L12.7 9.7 L12.7 1.3 Z"/><circle cx="4.5" cy="4" r="1.6" fill="#8f8a5c"/><path d="M2 9 Q2 6 4.5 6 Q7 6 7 9 Z" fill="#8f8a5c"/><rect x="8" y="3" width="4" height="1.2" fill="#8f8a5c"/><rect x="8" y="5.2" width="4" height="1.2" fill="#8f8a5c"/><rect x="8" y="7.4" width="4" height="1.2" fill="#8f8a5c"/></svg></div>
<span class="a nw sbt" style="top:172px">Contactos</span>
<svg class="a" style="left:5px;top:202px" width="4" height="7" viewBox="0 0 4 7"><path d="M0 0 L3.5 3.5 L0 7 Z" fill="#8f8a5c"/></svg>
<div class="a sbi" style="top:193px"><svg width="14" height="12" viewBox="0 0 16 14"><g fill="#8f8a5c"><circle cx="3" cy="3.2" r="2.2"/><circle cx="13" cy="3.2" r="2.2"/><circle cx="8" cy="5" r="2.9"/><path d="M0 11 L0 8.5 Q0 6 3 6 Q5 6 5.5 7.5 L4 11 Z"/><path d="M16 11 L16 8.5 Q16 6 13 6 Q11 6 10.5 7.5 L12 11 Z"/><path d="M3.5 14 L3.5 11.5 Q3.5 8.5 8 8.5 Q12.5 8.5 12.5 11.5 L12.5 14 Z"/></g></svg></div>
<span class="a nw sbt" style="top:197px">Relacionados</span>
<svg class="a" style="left:5px;top:227px" width="4" height="7" viewBox="0 0 4 7"><path d="M0 0 L3.5 3.5 L0 7 Z" fill="#8f8a5c"/></svg>
<div class="a sbi" style="top:218px"><svg width="14" height="12" viewBox="0 0 14 12"><g fill="#8f8a5c"><circle cx="5" cy="7" r="3.6"/><circle cx="11" cy="2.6" r="2.3"/><circle cx="11" cy="9.6" r="2.2"/></g><g fill="#fff"><circle cx="5" cy="7" r="1.3"/><circle cx="11" cy="2.6" r="0.8"/><circle cx="11" cy="9.6" r="0.8"/></g></svg></div>
<span class="a nw sbt" style="top:222px">Proyectos</span>
<div class="a sbi" style="top:243px"><svg width="14" height="11" viewBox="0 0 14 11"><path fill-rule="evenodd" fill="#8f8a5c" d="M0 0 L14 0 L14 11 L0 11 Z M1.2 1.2 L1.2 9.8 L12.8 9.8 L12.8 1.2 Z"/><circle cx="4" cy="3.6" r="1.3" fill="#8f8a5c"/><path d="M2.2 8.8 L5 6 L6.5 7.3 L9.5 4 L11.8 6.5 L11.8 8.8 Z" fill="#8f8a5c"/></svg></div>
<span class="a nw sbt" style="top:247px">Explotaciones</span>
<div class="a sbi" style="top:268px"><svg width="8" height="11" viewBox="0 0 8 11"><path d="M4 0 Q5 3 7 5.5 Q8.5 8 6.8 9.8 Q4 11.8 1.2 9.8 Q-0.5 8 1 5.5 Q3 3 4 0 Z" fill="#8f8a5c"/></svg></div>
<span class="a nw sbt" style="top:272px">Tratamientos</span>
<div class="a" style="left:4px;top:294px;width:201px;height:270px;background:#e1e8e2;border-left:1px solid #6da37b"></div>
<span class="a nw sbh" style="top:297.5px">Actividad comercial</span>
<svg class="a" style="left:5px;top:323px" width="4" height="7" viewBox="0 0 4 7"><path d="M0 0 L3.5 3.5 L0 7 Z" fill="#6da37b"/></svg>
<div class="a sbi" style="top:314px"><svg width="11" height="13" viewBox="0 0 11 13"><path d="M0.6 0.6 L7 0.6 L10.4 4 L10.4 12.4 L0.6 12.4 Z M7 0.6 L7 4 L10.4 4" fill="none" stroke="#6da37b" stroke-width="1.1"/><g fill="#6da37b"><rect x="2.5" y="6" width="6" height="1"/><rect x="2.5" y="8" width="6" height="1"/><rect x="2.5" y="10" width="6" height="1"/></g></svg></div>
<span class="a nw sbt" style="top:318px">Notas</span>
<svg class="a" style="left:5px;top:348px" width="4" height="7" viewBox="0 0 4 7"><path d="M0 0 L3.5 3.5 L0 7 Z" fill="#6da37b"/></svg>
<div class="a sbi" style="top:339px"><svg width="16" height="10" viewBox="0 0 20 12"><g fill="#6da37b"><rect x="0" y="1.5" width="3.6" height="7.5"/><rect x="16.4" y="1.5" width="3.6" height="7.5"/></g><g fill="none" stroke="#6da37b" stroke-width="1.7" stroke-linejoin="round"><path d="M3.6 3 Q6 1 9 1.2 Q10.5 1.3 12 1 Q14.5 1 16.4 3 L16.4 8 Q14 9.5 12.5 10.5 Q10.5 11.8 9 11 L3.6 8 Z"/><path d="M6.2 6.2 Q7.8 3 10.6 2.4 L8.8 5.6 Q10.6 7.6 12.6 5.6 L14.2 4"/></g></svg></div>
<span class="a nw sbt" style="top:343px">Acciones</span>
<svg class="a" style="left:5px;top:373px" width="4" height="7" viewBox="0 0 4 7"><path d="M0 0 L3.5 3.5 L0 7 Z" fill="#6da37b"/></svg>
<div class="a sbi" style="top:364px"><svg width="13" height="12" viewBox="0 0 15 15"><g fill="#6da37b"><rect x="0.5" y="0.5" width="1.6" height="14"/><path d="M2.5 1.5 Q5 0 8 1.5 Q11 3 14.5 1.5 L14.5 8.5 Q11 10 8 8.5 Q5 7 2.5 8.5 Z M4 3 L4 7 Q5.5 6.2 7 6.5 L7 2.6 Q5.5 2.3 4 3 Z M9 3.3 L9 7.2 Q11 8 13 7.4 L13 3.5 Q11 4 9 3.3 Z" fill-rule="evenodd"/><rect x="5" y="4" width="2" height="1.6"/><rect x="9.5" y="4.5" width="2.2" height="1.6"/></g></svg></div>
<span class="a nw sbt" style="top:368px">Oportunidades</span>
<svg class="a" style="left:5px;top:398px" width="4" height="7" viewBox="0 0 4 7"><path d="M0 0 L3.5 3.5 L0 7 Z" fill="#6da37b"/></svg>
<div class="a sbi" style="top:389px"><svg width="14" height="11" viewBox="0 0 14 11"><path fill-rule="evenodd" fill="#6da37b" d="M0 0 L14 0 L14 11 L0 11 Z M1.2 5 L1.2 9.8 L12.8 9.8 L12.8 5 Z"/><rect x="2" y="7.5" width="2" height="1" fill="#6da37b"/><rect x="4.6" y="7.5" width="2.5" height="1" fill="#6da37b"/></svg></div>
<span class="a nw sbt" style="top:393px">Gastos</span>
<svg class="a" style="left:5px;top:423px" width="4" height="7" viewBox="0 0 4 7"><path d="M0 0 L3.5 3.5 L0 7 Z" fill="#6da37b"/></svg>
<div class="a sbi" style="top:414px"><svg width="13" height="9" viewBox="0 0 13 9"><rect width="13" height="9" rx="0.5" fill="#6da37b"/><path d="M1.6 4.5 Q3 1.2 6.5 1.1 Q10 1.2 11.4 4.5 Q10 7.8 6.5 7.9 Q3 7.8 1.6 4.5 Z" fill="#fff" opacity=".8"/><ellipse cx="6.5" cy="4.5" rx="1.5" ry="2.3" fill="none" stroke="#6da37b" stroke-width="1.1"/></svg></div>
<span class="a nw sbt" style="top:418px">Presupuestos</span>
<div class="a sbi" style="top:439px"><svg width="13" height="9" viewBox="0 0 13 9"><rect width="13" height="9" rx="0.5" fill="#6f7470"/><path d="M1.6 4.5 Q3 1.2 6.5 1.1 Q10 1.2 11.4 4.5 Q10 7.8 6.5 7.9 Q3 7.8 1.6 4.5 Z" fill="#fff" opacity=".8"/><ellipse cx="6.5" cy="4.5" rx="1.5" ry="2.3" fill="none" stroke="#6f7470" stroke-width="1.1"/></svg></div>
<span class="a nw sbt" style="top:443px">Facturas proforma</span>
<svg class="a" style="left:5px;top:473px" width="4" height="7" viewBox="0 0 4 7"><path d="M0 0 L3.5 3.5 L0 7 Z" fill="#6da37b"/></svg>
<div class="a sbi" style="top:464px"><svg width="13" height="9" viewBox="0 0 13 9"><rect width="13" height="9" rx="0.5" fill="#6da37b"/><path d="M1.6 4.5 Q3 1.2 6.5 1.1 Q10 1.2 11.4 4.5 Q10 7.8 6.5 7.9 Q3 7.8 1.6 4.5 Z" fill="#fff" opacity=".8"/><ellipse cx="6.5" cy="4.5" rx="1.5" ry="2.3" fill="none" stroke="#6da37b" stroke-width="1.1"/></svg></div>
<span class="a nw sbt" style="top:468px">Pedidos</span>
<div class="a sbi" style="top:489px"><svg width="13" height="9" viewBox="0 0 13 9"><rect width="13" height="9" rx="0.5" fill="#6f7470"/><path d="M1.6 4.5 Q3 1.2 6.5 1.1 Q10 1.2 11.4 4.5 Q10 7.8 6.5 7.9 Q3 7.8 1.6 4.5 Z" fill="#fff" opacity=".8"/><ellipse cx="6.5" cy="4.5" rx="1.5" ry="2.3" fill="none" stroke="#6f7470" stroke-width="1.1"/></svg></div>
<span class="a nw sbt" style="top:493px">Trade Marketing</span>
<div class="a sbi" style="top:514px"><svg width="12" height="12" viewBox="0 0 12 12"><circle cx="6" cy="6" r="6" fill="#6f7470"/><rect x="2.8" y="5" width="6.4" height="2" fill="#fff"/><rect x="5" y="2.8" width="2" height="6.4" fill="#fff"/></svg></div>
<span class="a nw sbt" style="top:518px">Acuerdos</span>
<svg class="a" style="left:5px;top:548px" width="4" height="7" viewBox="0 0 4 7"><path d="M0 0 L3.5 3.5 L0 7 Z" fill="#6da37b"/></svg>
<div class="a sbi" style="top:539px"><svg width="14" height="12" viewBox="0 0 14 12"><g fill="#6da37b"><path d="M3 4.5 L6 0.5 L6.8 1 L4.4 4.5 Z M11 4.5 L8 0.5 L7.2 1 L9.6 4.5 Z"/><rect x="0" y="4.3" width="14" height="2"/><path fill-rule="evenodd" d="M1 6.5 L13 6.5 L12 12 L2 12 Z M3.5 7.5 L3.5 11 L4.5 11 L4.5 7.5 Z M6.5 7.5 L6.5 11 L7.5 11 L7.5 7.5 Z M9.5 7.5 L9.5 11 L10.5 11 L10.5 7.5 Z"/></g></svg></div>
<span class="a nw sbt" style="top:543px">Promociones</span>
<div class="a" style="left:4px;top:564px;width:201px;height:147px;background:#f6ebe9;border-left:1px solid #c4525c"></div>
<span class="a nw sbh" style="top:568.5px">Marketing y comunicación</span>
<svg class="a" style="left:5px;top:595px" width="4" height="7" viewBox="0 0 4 7"><path d="M0 0 L3.5 3.5 L0 7 Z" fill="#c4525c"/></svg>
<div class="a sbi" style="top:586px"><svg width="13" height="13" viewBox="0 0 13 13"><path d="M13 0 L0 5.5 L4 7 L10.5 2.5 L5 8 L5 13 L7.5 9.5 L10.5 11 Z" fill="#c4525c"/></svg></div>
<span class="a nw sbt" style="top:590px">Campañas</span>
<svg class="a" style="left:5px;top:620px" width="4" height="7" viewBox="0 0 4 7"><path d="M0 0 L3.5 3.5 L0 7 Z" fill="#c4525c"/></svg>
<div class="a sbi" style="top:611px"><svg width="13" height="12" viewBox="0 0 13 12"><path d="M1.5 9 L1.5 6.5 Q1.5 1.5 6.5 1.5 Q11.5 1.5 11.5 6.5 L11.5 9" fill="none" stroke="#c4525c" stroke-width="1.8"/><rect x="0.5" y="6.5" width="3.2" height="5" rx="1" fill="#c4525c"/><rect x="9.3" y="6.5" width="3.2" height="5" rx="1" fill="#c4525c"/></svg></div>
<span class="a nw sbt" style="top:615px">Telemarketing</span>
<svg class="a" style="left:5px;top:645px" width="4" height="7" viewBox="0 0 4 7"><path d="M0 0 L3.5 3.5 L0 7 Z" fill="#c4525c"/></svg>
<div class="a sbi" style="top:636px"><svg width="16" height="11" viewBox="0 0 16 11"><path fill-rule="evenodd" fill="#c4525c" d="M1.5 0 L16 0 L16 11 L1 11 Q0 11 0 10 L0 2 L1.5 2 Z M2.6 1.1 L2.6 9.9 L14.9 9.9 L14.9 1.1 Z"/><rect x="3.8" y="2.3" width="4.5" height="4" fill="#c4525c"/><g fill="#c4525c"><rect x="9.3" y="2.3" width="4.5" height="1"/><rect x="9.3" y="4.3" width="4.5" height="1"/><rect x="9.3" y="6.3" width="4.5" height="1"/><rect x="3.8" y="8" width="10" height="1"/></g></svg></div>
<span class="a nw sbt" style="top:640px">Boletines</span>
<div class="a sbi" style="top:661px"><svg width="14" height="12" viewBox="0 0 14 12"><path d="M0 4 L3 4 L11 0 L11 11 L3 7.5 L0 7.5 Z M3.5 7.5 L5 12 L6.8 12 L5.5 7.8 Z" fill="#6f6f6f"/><path d="M12 4 L13.5 4 L13.5 7 L12 7 Z" fill="#6f6f6f"/></svg></div>
<span class="a nw sbt" style="top:665px">Eventos</span>
<svg class="a" style="left:5px;top:695px" width="4" height="7" viewBox="0 0 4 7"><path d="M0 0 L3.5 3.5 L0 7 Z" fill="#c4525c"/></svg>
<div class="a sbi" style="top:686px"><svg width="12" height="12" viewBox="0 0 12 12"><rect width="12" height="12" rx="2" fill="#c4525c"/><path d="M3.5 2.5 Q2 3.5 3.2 6 Q4.8 9 8 9.8 Q9.6 10 9.8 8.6 L8.2 7.4 L7.2 8 Q5.3 7 4.3 4.8 L5 3.9 Z" fill="#fff"/></svg></div>
<span class="a nw sbt" style="top:690px">SAC</span>
<div class="a" style="left:4px;top:711px;width:201px;height:146px;background:#f4eef5;border-left:1px solid #a57aa8"></div>
<span class="a nw sbh" style="top:714.5px">Ventas</span>
<svg class="a" style="left:5px;top:741px" width="4" height="7" viewBox="0 0 4 7"><path d="M0 0 L3.5 3.5 L0 7 Z" fill="#a57aa8"/></svg>
<div class="a sbi" style="top:732px"><svg width="13" height="9" viewBox="0 0 13 9"><rect width="13" height="9" rx="0.5" fill="#a57aa8"/><path d="M1.6 4.5 Q3 1.2 6.5 1.1 Q10 1.2 11.4 4.5 Q10 7.8 6.5 7.9 Q3 7.8 1.6 4.5 Z" fill="#fff" opacity=".8"/><ellipse cx="6.5" cy="4.5" rx="1.5" ry="2.3" fill="none" stroke="#a57aa8" stroke-width="1.1"/></svg></div>
<span class="a nw sbt" style="top:736px">Albaranes</span>
<svg class="a" style="left:5px;top:766px" width="4" height="7" viewBox="0 0 4 7"><path d="M0 0 L3.5 3.5 L0 7 Z" fill="#a57aa8"/></svg>
<div class="a sbi" style="top:757px"><svg width="13" height="9" viewBox="0 0 13 9"><rect width="13" height="9" rx="0.5" fill="#a57aa8"/><path d="M1.6 4.5 Q3 1.2 6.5 1.1 Q10 1.2 11.4 4.5 Q10 7.8 6.5 7.9 Q3 7.8 1.6 4.5 Z" fill="#fff" opacity=".8"/><ellipse cx="6.5" cy="4.5" rx="1.5" ry="2.3" fill="none" stroke="#a57aa8" stroke-width="1.1"/></svg></div>
<span class="a nw sbt" style="top:761px">Facturas</span>
<svg class="a" style="left:5px;top:791px" width="4" height="7" viewBox="0 0 4 7"><path d="M0 0 L3.5 3.5 L0 7 Z" fill="#a57aa8"/></svg>
<div class="a sbi" style="top:782px"><svg width="13" height="9" viewBox="0 0 13 9"><rect width="13" height="9" rx="0.5" fill="#a57aa8"/><path d="M1.6 4.5 Q3 1.2 6.5 1.1 Q10 1.2 11.4 4.5 Q10 7.8 6.5 7.9 Q3 7.8 1.6 4.5 Z" fill="#fff" opacity=".8"/><ellipse cx="6.5" cy="4.5" rx="1.5" ry="2.3" fill="none" stroke="#a57aa8" stroke-width="1.1"/></svg></div>
<span class="a nw sbt" style="top:786px">Facturac. agrup.</span>
<div class="a sbi" style="top:807px"><svg width="12" height="11" viewBox="0 0 12 11"><g fill="#6f6f6f"><rect x="0" y="9" width="1.6" height="2"/><rect x="2.6" y="7" width="1.6" height="4"/><rect x="5.2" y="5" width="1.6" height="6"/><rect x="7.8" y="2.5" width="1.6" height="8.5"/><rect x="10.4" y="0" width="1.6" height="11"/></g></svg></div>
<span class="a nw sbt" style="top:811px">Obj. facturación</span>
<svg class="a" style="left:5px;top:841px" width="4" height="7" viewBox="0 0 4 7"><path d="M0 0 L3.5 3.5 L0 7 Z" fill="#a57aa8"/></svg>
<div class="a sbi" style="top:832px"><svg width="13" height="9" viewBox="0 0 13 9"><rect width="13" height="9" rx="0.5" fill="#a57aa8"/><path d="M1.6 4.5 Q3 1.2 6.5 1.1 Q10 1.2 11.4 4.5 Q10 7.8 6.5 7.9 Q3 7.8 1.6 4.5 Z" fill="#fff" opacity=".8"/><ellipse cx="6.5" cy="4.5" rx="1.5" ry="2.3" fill="none" stroke="#a57aa8" stroke-width="1.1"/></svg></div>
<span class="a nw sbt" style="top:836px">Rentabilidad</span>
<!--/SIDEBAR-->
<div class="a" style="left:0;top:882px;width:1920px;height:4px;background:#fff;border-top:1px solid #c9c9c9"></div>
<div class="a" id="rstrip"></div>
</body></html>
